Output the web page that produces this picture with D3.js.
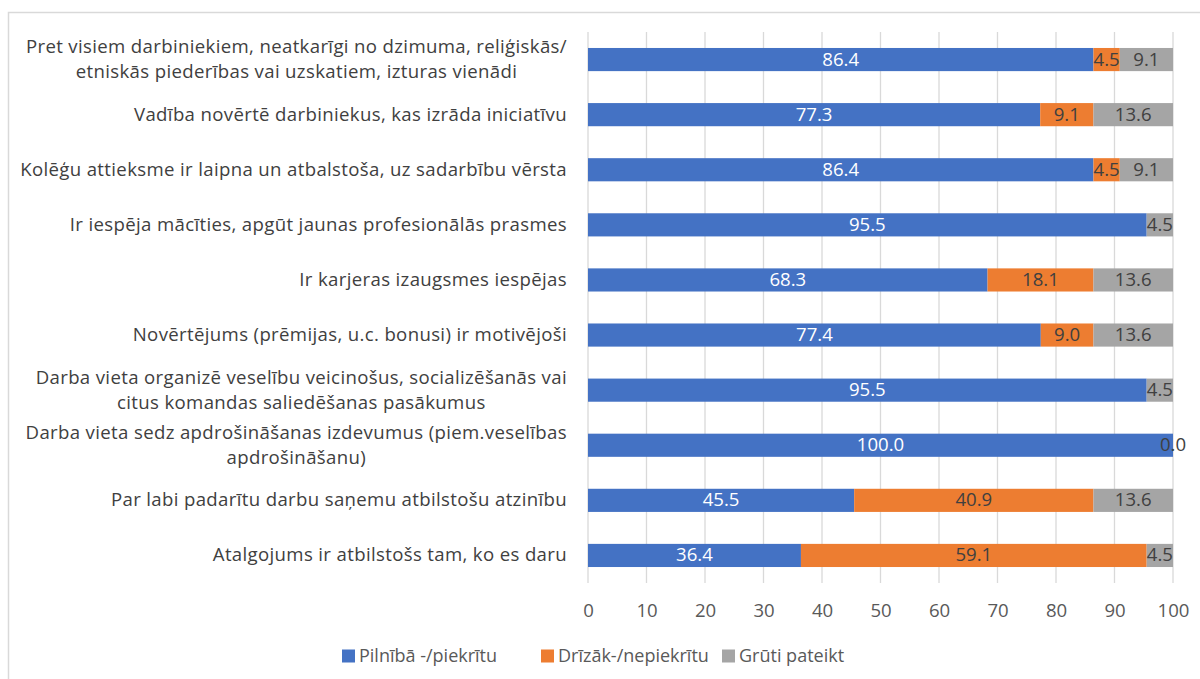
<!DOCTYPE html>
<html>
<head>
<meta charset="utf-8">
<script src="https://cdn.jsdelivr.net/npm/d3@7"></script>
<style>
  body { margin: 0; background: #fff; }
  svg { display: block; }
</style>
</head>
<body>
<div id="chart"></div>
<script>
// categories, top to bottom (lines split as in the original)
const categories = [
  ["Pret visiem darbiniekiem, neatkarīgi no dzimuma, reliģiskās/", "etniskās piederības vai uzskatiem, izturas vienādi"],
  ["Vadība novērtē darbiniekus, kas izrāda iniciatīvu"],
  ["Kolēģu attieksme ir laipna un atbalstoša, uz sadarbību vērsta"],
  ["Ir iespēja mācīties, apgūt jaunas profesionālās prasmes"],
  ["Ir karjeras izaugsmes iespējas"],
  ["Novērtējums (prēmijas, u.c. bonusi) ir motivējoši"],
  ["Darba vieta organizē veselību veicinošus, socializēšanās vai", "citus komandas saliedēšanas pasākumus"],
  ["Darba vieta sedz apdrošināšanas izdevumus (piem.veselības", "apdrošināšanu)"],
  ["Par labi padarītu darbu saņemu atbilstošu atzinību"],
  ["Atalgojums ir atbilstošs tam, ko es daru"]
];

const seriesNames = ["Pilnībā -/piekrītu", "Drīzāk-/nepiekrītu", "Grūti pateikt"];
const agree    = [86.4, 77.3, 86.4, 95.5, 68.3, 77.4, 95.5, 100.0, 45.5, 36.4];
const disagree = [4.5, 9.1, 4.5, 0, 18.1, 9.0, 0, 0, 40.9, 59.1];
const unsure   = [9.1, 13.6, 9.1, 4.5, 13.6, 13.6, 4.5, 0.0, 13.6, 4.5];
const xTicks = [0, 10, 20, 30, 40, 50, 60, 70, 80, 90, 100];

const colors = ["#4472C4", "#ED7D31", "#A5A5A5"];
const labelColors = ["#ffffff", "#404040", "#404040"];
const font = "'Open Sans', Lato, sans-serif";

const width = 1200, height = 679;
const svg = d3.select("#chart")
              .append("svg")
              .attr("width", width)
              .attr("height", height);

// chart border
svg.append("rect")
   .attr("x", 8.5)
   .attr("y", 12.5)
   .attr("width", 1300)
   .attr("height", 800)
   .attr("fill", "none")
   .attr("stroke", "#d9d9d9")
   .attr("stroke-width", 1.5);

const plotLeft = 588, plotRight = 1173, plotTop = 32, plotBottom = 583;

const xScale = d3.scaleLinear()
                 .domain([0, 100])
                 .range([plotLeft, plotRight]);

const yScale = d3.scaleBand()
                 .domain(d3.range(categories.length))
                 .range([plotTop, plotBottom])
                 .paddingInner(0.58)
                 .paddingOuter(0.29);

// gridlines
svg.append("g")
   .selectAll("line")
   .data(xTicks)
   .join("line")
   .attr("x1", d => xScale(d))
   .attr("x2", d => xScale(d))
   .attr("y1", plotTop)
   .attr("y2", plotBottom)
   .attr("stroke", "#d9d9d9")
   .attr("stroke-width", 1.3);

// x axis labels
const xAxis = svg.append("g")
   .attr("transform", `translate(0, ${plotBottom})`)
   .call(d3.axisBottom(xScale).tickValues(xTicks).tickSize(0).tickPadding(21));
xAxis.select(".domain").remove();
xAxis.selectAll("text")
     .style("font-family", font)
     .style("font-size", "18.6px")
     .attr("fill", "#595959");

// stacked data
const rows = categories.map((c, i) => ({ i, a: agree[i], d: disagree[i], u: unsure[i] }));
const stack = d3.stack().keys(["a", "d", "u"])(rows);

const layers = svg.append("g")
   .selectAll("g")
   .data(stack)
   .join("g")
   .attr("fill", (d, k) => colors[k]);

layers.selectAll("rect")
      .data(d => d)
      .join("rect")
      .attr("x", d => xScale(d[0]))
      .attr("y", d => yScale(d.data.i))
      .attr("width", d => xScale(d[1]) - xScale(d[0]))
      .attr("height", yScale.bandwidth());

// value labels (zero shown only for the gray series of the 100% row)
stack.forEach((layer, k) => {
  svg.append("g")
     .selectAll("text")
     .data(layer.filter(d => d[1] - d[0] > 0 || (k === 2 && d.data.a === 100)))
     .join("text")
     .text(d => (d[1] - d[0]).toFixed(1))
     .attr("x", d => (xScale(d[0]) + xScale(d[1])) / 2)
     .attr("y", d => yScale(d.data.i) + yScale.bandwidth() / 2 + 1)
     .attr("text-anchor", "middle")
     .style("dominant-baseline", "middle")
     .style("font-family", font)
     .style("font-size", "18.6px")
     .attr("fill", labelColors[k]);
});

// category labels
const labelRight = 567;
const catG = svg.append("g");
categories.forEach((lines, i) => {
  const cy = yScale(i) + yScale.bandwidth() / 2;
  const g = catG.append("g");
  const texts = lines.map((line, j) => g.append("text")
     .text(line)
     .attr("y", cy + (j - (lines.length - 1) / 2) * 25 + 1)
     .style("dominant-baseline", "middle")
     .style("font-family", font)
     .style("font-size", "18.6px")
     .style("letter-spacing", "0.35px")
     .attr("fill", "#404040")
     .attr("text-anchor", "middle"));
  const maxW = d3.max(texts, t => t.node().getComputedTextLength());
  texts.forEach(t => t.attr("x", labelRight - maxW / 2));
});

// legend
const legendX = [342, 541, 722];
const legend = svg.append("g")
   .selectAll("g")
   .data(seriesNames)
   .join("g")
   .attr("transform", (d, k) => `translate(${legendX[k]}, 656)`);

legend.append("rect")
      .attr("x", 0)
      .attr("y", -6.5)
      .attr("width", 13)
      .attr("height", 13)
      .attr("fill", (d, k) => colors[k]);

legend.append("text")
      .text(d => d)
      .attr("x", 17)
      .attr("y", 1)
      .style("dominant-baseline", "middle")
      .style("font-family", font)
      .style("font-size", "18px")
      .attr("fill", "#595959");
</script>
</body>
</html>
